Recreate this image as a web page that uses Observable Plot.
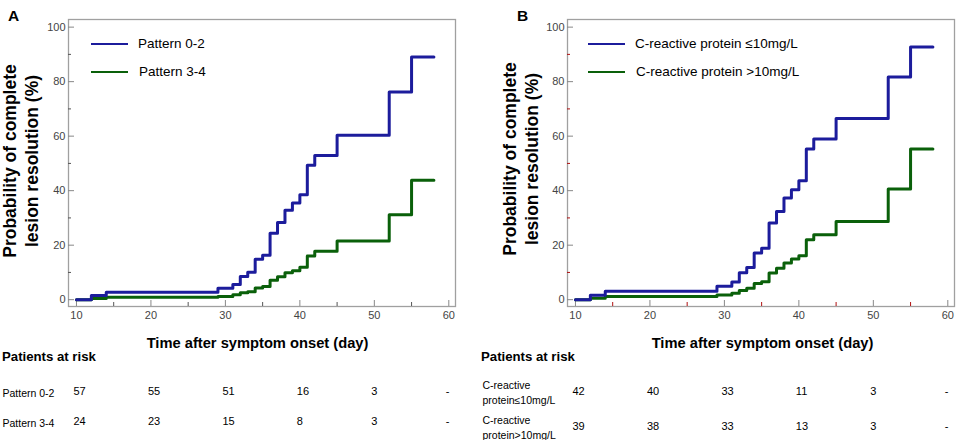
<!DOCTYPE html>
<html><head><meta charset="utf-8">
<script src="https://cdn.jsdelivr.net/npm/d3@7"></script>
<script src="https://cdn.jsdelivr.net/npm/@observablehq/plot@0.6"></script>
<style>
body{margin:0;background:#fff;font-family:"Liberation Sans",Arial,sans-serif;}
#root{position:relative;width:957px;height:440px;overflow:hidden;background:#fff;}
.abs{position:absolute;white-space:nowrap;line-height:1;color:#000;}
.b{font-weight:bold;}
.ytitle{position:absolute;width:300px;text-align:center;font-weight:bold;font-size:17.5px;line-height:21.5px;transform:translate(-50%,-50%) rotate(-90deg);white-space:nowrap;}
.leg{position:absolute;height:2px;width:37px;}
svg{position:absolute;}
</style></head><body><div id="root"></div>
<script>
// ---- data ----
const times = [10,12,14,29,31,32,33,34,35,36,37,38,39,40,41,42,45,52,55,58];
const pattern02 = [0,1.5,2.7,4.2,5.6,8.5,10.1,14.8,16.3,24.4,28.3,32.8,35.5,38.5,49.3,52.9,60.3,76.2,89.0,89.0];
const pattern34 = [0,0.4,0.9,1.2,1.8,2.5,2.9,4.3,4.8,7.1,8.4,9.9,10.6,11.9,16.0,17.8,21.5,31.2,43.8,43.8];
const crpLow  = [0,1.6,3.1,4.9,6.5,9.9,11.8,17.1,18.9,28.1,32.4,37.3,40.3,43.6,55.3,59.0,66.5,81.7,92.7,92.7];
const crpHigh = [0,0.5,1.2,1.7,2.4,3.4,4.2,5.9,6.6,9.8,11.5,13.5,14.9,16.1,22.0,23.8,28.7,40.6,55.3,55.3];

const yMajor = [0,20,40,60,80,100];
const yMinor = [10,30,50,70,90];
const xMajor = [10,20,30,40,50,60];
const xMinor = [15,25,35,45,55];

const riskTimes = [10,20,30,40,50,60];
const riskRowsA = ["Pattern 0-2","Pattern 3-4"];
const riskA1 = ["57","55","51","16","3","-"];
const riskA2 = ["24","23","15","8","3","-"];
const riskRowsB = ["C-reactive\nprotein\u226410mg/L","C-reactive\nprotein>10mg/L"];
const riskB1 = ["42","40","33","11","3","-"];
const riskB2 = ["39","38","33","13","3","-"];

const legendA = ["Pattern 0-2","Pattern 3-4"];
const legendB = ["C-reactive protein \u226410mg/L","C-reactive protein >10mg/L"];

const BLUE = "#1c1c9c", GREEN = "#0a600a";
const X_DOMAIN = [8.93, 60.9], Y_DOMAIN = [-2.5, 102.8];

const root = document.getElementById("root");

function curvePanel({left, width, marginLeft, marginRight, s1, s2, minorColor}) {
  const height = 330, marginTop = 19, marginBottom = 24;
  const fw = width - marginLeft - marginRight, fh = height - marginTop - marginBottom;
  const p = Plot.plot({
    width, height, marginLeft, marginRight, marginTop, marginBottom,
    style: {fontFamily: "'Liberation Sans', Arial, sans-serif", color: "#444", background: "transparent"},
    x: {domain: X_DOMAIN},
    y: {domain: Y_DOMAIN},
    marks: [
      Plot.frame({stroke: "#a0a0a0", strokeWidth: 1.3}),
      Plot.tickY(yMajor, {y: d => d, insetRight: fw - 6, stroke: "#888"}),
      Plot.tickY(yMinor, {y: d => d, insetRight: fw - 3, stroke: minorColor}),
      Plot.tickX(xMajor, {x: d => d, insetTop: fh - 6, stroke: "#888"}),
      Plot.tickX(xMinor, {x: d => d, insetTop: fh - 4, stroke: minorColor}),
      Plot.axisY({ticks: yMajor, tickSize: 0, tickPadding: 3, fontSize: 11, label: null}),
      Plot.axisX({ticks: xMajor, tickSize: 0, tickPadding: 5, fontSize: 11, label: null}),
      Plot.line(times, {x: d => d, y: (d, i) => s2[i], curve: "step-after", stroke: GREEN, strokeWidth: 3}),
      Plot.line(times, {x: d => d, y: (d, i) => s1[i], curve: "step-after", stroke: BLUE, strokeWidth: 3})
    ]
  });
  p.style.left = left + "px"; p.style.top = "0px";
  root.appendChild(p);
}

function riskPanel({left, width, marginLeft, marginRight, rows, r1, r2, range}) {
  const data = [];
  riskTimes.forEach((t, i) => { data.push({t, row: rows[0], n: r1[i]}); data.push({t, row: rows[1], n: r2[i]}); });
  const p = Plot.plot({
    width, height: 70, marginLeft, marginRight, marginTop: 0, marginBottom: 0,
    style: {fontFamily: "'Liberation Sans', Arial, sans-serif", color: "#000", background: "transparent"},
    x: {domain: X_DOMAIN, axis: null},
    y: {type: "point", domain: rows, range, padding: 0, axis: null},
    marks: [
      Plot.text(rows, {y: d => d, text: d => d, frameAnchor: "left", textAnchor: "start", dx: 2 - marginLeft, fontSize: 10.5, lineHeight: 1.5, fill: "#000"}),
      Plot.text(data, {x: "t", y: "row", text: "n", textAnchor: "start", dx: -3, fontSize: 11, fill: "#000"})
    ]
  });
  p.style.left = left + "px"; p.style.top = "370px";
  root.appendChild(p);
}

function addText(txt, x, y, size, bold, center) {
  const d = document.createElement("div");
  d.className = "abs" + (bold ? " b" : "");
  d.textContent = txt;
  d.style.fontSize = size + "px";
  d.style.left = x + "px";
  d.style.top = (y - size * 0.5) + "px";
  if (center) d.style.transform = "translateX(-50%)";
  root.appendChild(d);
}
function addYTitle(cx, cy) {
  const d = document.createElement("div");
  d.className = "ytitle";
  d.innerHTML = "Probability of complete<br>lesion resolution (%)";
  d.style.left = cx + "px"; d.style.top = cy + "px";
  root.appendChild(d);
}
function addLegend(labels, x0, textX) {
  [BLUE, GREEN].forEach((c, i) => {
    const y = 44 + i * 28;
    const l = document.createElement("div");
    l.className = "leg"; l.style.background = c;
    l.style.left = x0 + "px"; l.style.top = (y - 1) + "px";
    root.appendChild(l);
    addText(labels[i], textX + (i ? 1 : 0), y, 13.5, false, false);
  });
}

curvePanel({left: 0, width: 478, marginLeft: 68, marginRight: 23, s1: pattern02, s2: pattern34, minorColor: "#555"});
curvePanel({left: 480, width: 477, marginLeft: 87, marginRight: 3, s1: crpLow, s2: crpHigh, minorColor: "#b01010"});
riskPanel({left: 0, width: 478, marginLeft: 68, marginRight: 23, rows: riskRowsA, r1: riskA1, r2: riskA2, range: [20.7, 50.7]});
riskPanel({left: 480, width: 477, marginLeft: 87, marginRight: 3, rows: riskRowsB, r1: riskB1, r2: riskB2, range: [20.7, 55.7]});

addText("A", 8, 16, 15.5, true, false);
addText("B", 517, 16, 15.5, true, false);
addYTitle(20.5, 161);
addYTitle(521, 159);
addLegend(legendA, 91, 138);
addLegend(legendB, 588, 635);
addText("Time after symptom onset (day)", 257.5, 343, 14.7, true, true);
addText("Time after symptom onset (day)", 762.5, 343, 14.7, true, true);
addText("Patients at risk", 2, 357, 13.2, true, false);
addText("Patients at risk", 481, 357, 13.2, true, false);
</script></body></html>
